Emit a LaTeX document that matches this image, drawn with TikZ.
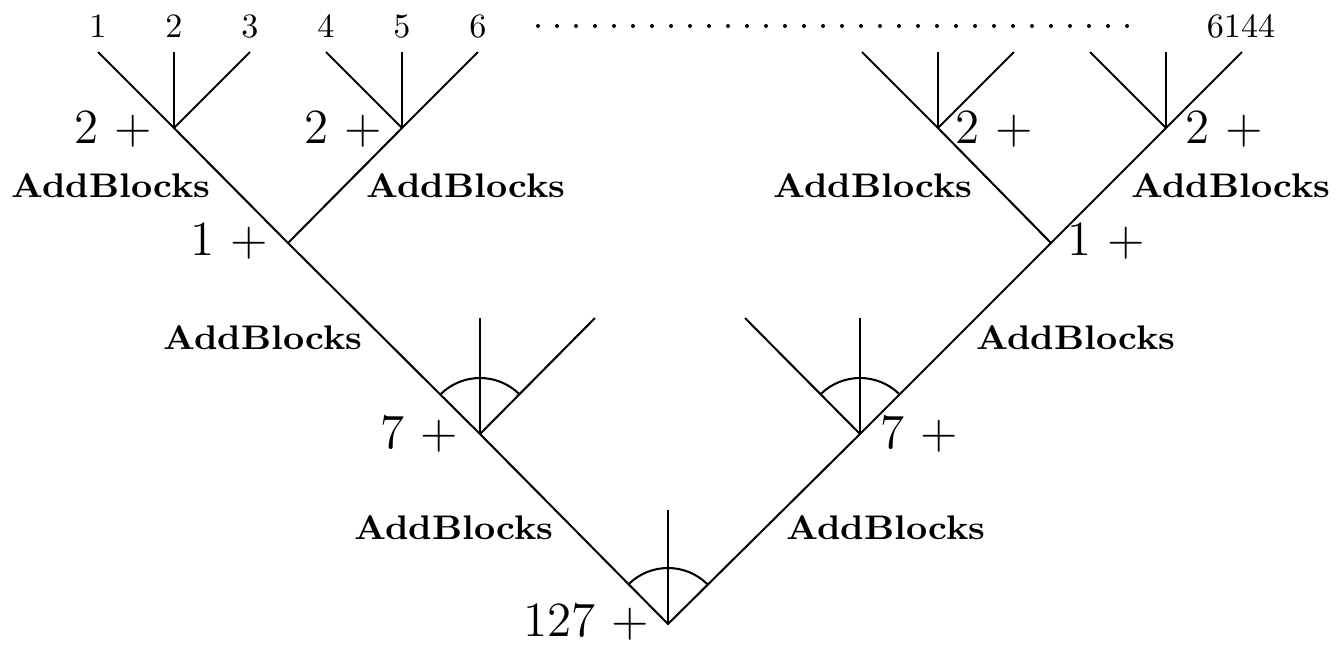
\documentclass[tikz,border=0pt]{standalone}
\newcommand\opname{\scalebox{1.08}[1]{AddBlocks}}
\begin{document}
\begin{tikzpicture}[x=0.293pt,y=-0.293pt,
    edge/.style={line width=0.6pt},
    sumlbl/.style={font=\Large, inner sep=0pt},
    leaflbl/.style={inner sep=0pt, anchor=base},
    oplbl/.style={font=\bfseries, inner sep=0pt, anchor=base}]
  \useasboundingbox (0,0) rectangle (1342,644);

  % ==========================================================
  %                     PARAMETERS (pixels of the sheet)
  % ==========================================================
  \def\leafY{52}       % top ends of the leaf edges
  \def\twoY{128}       % level of the "2 +" junctions
  \def\arcR{56}        % radius of the angle marks

  % ==========================================================
  %                     JUNCTIONS
  % ==========================================================
  \coordinate (root) at (668,624);
  \coordinate (root-v) at (668,510);
  \coordinate (l7) at (480,434);
  \coordinate (l7-v) at (480,318);
  \coordinate (l7-r) at (595,318);
  \coordinate (r7) at (860,434);
  \coordinate (r7-v) at (860,318);
  \coordinate (r7-l) at (745,318);
  \coordinate (l1) at (288,243);
  \coordinate (r1) at (1051,243);

  % the four three-way splits at the top
  \foreach \j/\x in {la/174,lb/402,ra/938,rb/1166} {
    \coordinate (\j) at (\x,\twoY);
    \coordinate (\j-l) at (\x-76,\leafY);
    \coordinate (\j-v) at (\x,\leafY);
    \coordinate (\j-r) at (\x+76,\leafY);
    \draw[edge] (\j-l) -- (\j) -- (\j-r);
    \draw[edge] (\j) -- (\j-v);
  }

  % ==========================================================
  %                     EDGES
  % ==========================================================
  \draw[edge] (la) -- (l1) -- (lb);
  \draw[edge] (ra) -- (r1) -- (rb);
  \draw[edge] (l1) -- (l7) -- (root) -- (r7) -- (r1);
  \draw[edge] (l7) -- (l7-v);
  \draw[edge] (l7) -- (l7-r);
  \draw[edge] (r7) -- (r7-v);
  \draw[edge] (r7) -- (r7-l);
  \draw[edge] (root) -- (root-v);

  % angle marks
  \foreach \c in {l7,r7,root}
    \draw[edge] ([shift={(-135:\arcR)}]\c) arc[start angle=-135, end angle=-45, radius=\arcR];

  % ==========================================================
  %                     LABELS
  % ==========================================================
  \foreach \t/\x in {1/98,2/174,3/250,4/326,5/402,6/478,6144/1241}
    \node[leaflbl] (leaf\t) at (\x,37) {\t};
  \foreach \k in {0,...,31}
    \fill (538+19*\k,26) circle (2);

  \node[sumlbl, anchor=base east] (sla) at (153,143) {2 +};
  \node[sumlbl, anchor=base east] (slb) at (383,143) {2 +};
  \node[sumlbl, anchor=base west] (sra) at (955,143) {2 +};
  \node[sumlbl, anchor=base west] (srb) at (1185,143) {2 +};
  \node[sumlbl, anchor=base east] (sl1) at (269,255) {1 +};
  \node[sumlbl, anchor=base west] (sr1) at (1067,255) {1 +};
  \node[sumlbl, anchor=base east] (sl7) at (459,448) {7 +};
  \node[sumlbl, anchor=base west] (sr7) at (880,448) {7 +};
  \node[sumlbl, anchor=base east] (sroot) at (650,636) {127 +};

  \node[oplbl] (opla) at (111,197) {\opname};
  \node[oplbl] (oplb) at (466,197) {\opname};
  \node[oplbl] (opra) at (873,197) {\opname};
  \node[oplbl] (oprb) at (1231,197) {\opname};
  \node[oplbl] (opl1) at (263,349) {\opname};
  \node[oplbl] (opr1) at (1076,349) {\opname};
  \node[oplbl] (opl7) at (454,539) {\opname};
  \node[oplbl] (opr7) at (886,539) {\opname};
\end{tikzpicture}
\end{document}
